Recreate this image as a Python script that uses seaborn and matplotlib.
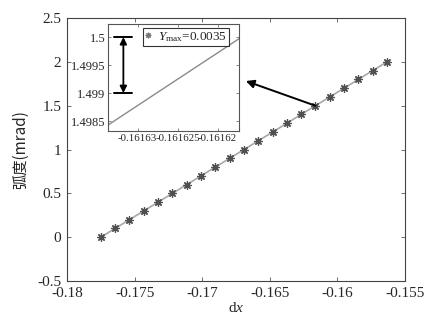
import numpy as np
import pandas as pd
import matplotlib
matplotlib.use('Agg')
import matplotlib.pyplot as plt
import seaborn as sns
from matplotlib.lines import Line2D

# --- data ---
dx = [-0.17750, -0.17644, -0.17538, -0.17432, -0.17326, -0.17220, -0.17114,
      -0.17008, -0.16902, -0.16796, -0.16690, -0.16584, -0.16478, -0.16372,
      -0.16268, -0.161617, -0.16056, -0.15950, -0.15844, -0.15738, -0.15632]
arc = [0.0, 0.1, 0.2, 0.3, 0.4, 0.5, 0.6, 0.7, 0.8, 0.9, 1.0,
       1.1, 1.2, 1.3, 1.4, 1.5, 1.6, 1.7, 1.8, 1.9, 2.0]
xticks_main = [-0.18, -0.175, -0.17, -0.165, -0.16, -0.155]
yticks_main = [-0.5, 0, 0.5, 1, 1.5, 2, 2.5]
xticks_zoom = [-0.16163, -0.161625, -0.16162]
yticks_zoom = [1.4985, 1.499, 1.4995, 1.5]
ymax_label = r'$Y_{\rm max}$=0.0035'

df = pd.DataFrame({'dx': dx, 'arc': arc})

sns.set_style('ticks')
plt.rcParams['font.family'] = ['Liberation Serif', 'Noto Sans CJK SC']
plt.rcParams['mathtext.fontset'] = 'custom'
plt.rcParams['mathtext.rm'] = 'Liberation Serif'
plt.rcParams['mathtext.it'] = 'Liberation Serif:italic'
plt.rcParams['axes.unicode_minus'] = False
plt.rcParams['xtick.direction'] = 'in'
plt.rcParams['ytick.direction'] = 'in'

fig = plt.figure(figsize=(4.27, 3.23), dpi=100)
ax = fig.add_axes([0.157, 0.130, 0.791, 0.814])

marker = (8, 2, 0)
sns.lineplot(data=df, x='dx', y='arc', ax=ax, color='#a8a8a8', lw=1.2,
             marker=marker, markersize=6, markeredgecolor='#505050',
             markerfacecolor='#505050', markeredgewidth=0.9)

ax.set_xlim(-0.18, -0.155)
ax.set_ylim(-0.5, 2.5)
ax.set_xticks(xticks_main)
ax.set_yticks(yticks_main)
ax.set_xticklabels([f'{v:g}' for v in xticks_main], fontsize=11)
ax.set_yticklabels([f'{v:g}' for v in yticks_main], fontsize=11)
ax.tick_params(top=True, right=True, length=3, width=0.6, color='#555555', pad=4)
for s in ax.spines.values():
    s.set_color('#444444')
    s.set_linewidth(0.8)
ax.set_xlabel('d$x$', fontsize=11, labelpad=1)
ax.set_ylabel('弧度(mrad)', fontsize=11, labelpad=6,
              family=['Noto Sans CJK SC', 'Liberation Serif'])

# arrow from the zoomed point to the inset
ax.annotate('', xy=(-0.16676, 1.782), xytext=(dx[15], arc[15]),
            arrowprops=dict(arrowstyle='-|>', color='black', lw=1.4,
                            mutation_scale=12, shrinkA=0, shrinkB=0))

# --- inset ---
axin = fig.add_axes([0.253, 0.594, 0.307, 0.331])
sns.lineplot(data=df, x='dx', y='arc', ax=axin, color='#8a8a8a', lw=1.0)
axin.set_xlim(-0.1616337, -0.1616173)
axin.set_ylim(1.49832, 1.50023)
axin.set_xticks(xticks_zoom)
axin.set_yticks(yticks_zoom)
axin.set_xticklabels([f'{v:g}' for v in xticks_zoom], fontsize=7.8)
axin.set_yticklabels([f'{v:g}' for v in yticks_zoom], fontsize=9)
axin.tick_params(top=True, right=True, length=2.5, width=0.5, color='#555555', pad=2)
axin.set_xlabel('')
axin.set_ylabel('')
for s in axin.spines.values():
    s.set_color('#555555')
    s.set_linewidth(0.8)

tr = axin.get_yaxis_transform()
axin.plot([0.046, 0.183], [1.5, 1.5], color='black', lw=1.4, transform=tr)
axin.plot([0.046, 0.183], [1.499, 1.499], color='black', lw=1.4, transform=tr)
axin.annotate('', xy=(0.117, 1.499), xytext=(0.117, 1.5), xycoords=tr, textcoords=tr,
              arrowprops=dict(arrowstyle='<|-|>', color='black', lw=1.3,
                              mutation_scale=10, shrinkA=0, shrinkB=0))

handle = Line2D([], [], ls='none', marker=marker, markersize=4,
                color='#777777', markeredgewidth=0.8)
leg = axin.legend([handle], [ymax_label], loc='upper right',
                  bbox_to_anchor=(0.92, 0.965), borderaxespad=0, fontsize=9.5,
                  frameon=True, fancybox=False, handlelength=0.5,
                  handletextpad=0.5, borderpad=0.15, labelspacing=0)
leg.get_frame().set_edgecolor('black')
leg.get_frame().set_linewidth(0.8)

fig.savefig('out.png', dpi=100)
